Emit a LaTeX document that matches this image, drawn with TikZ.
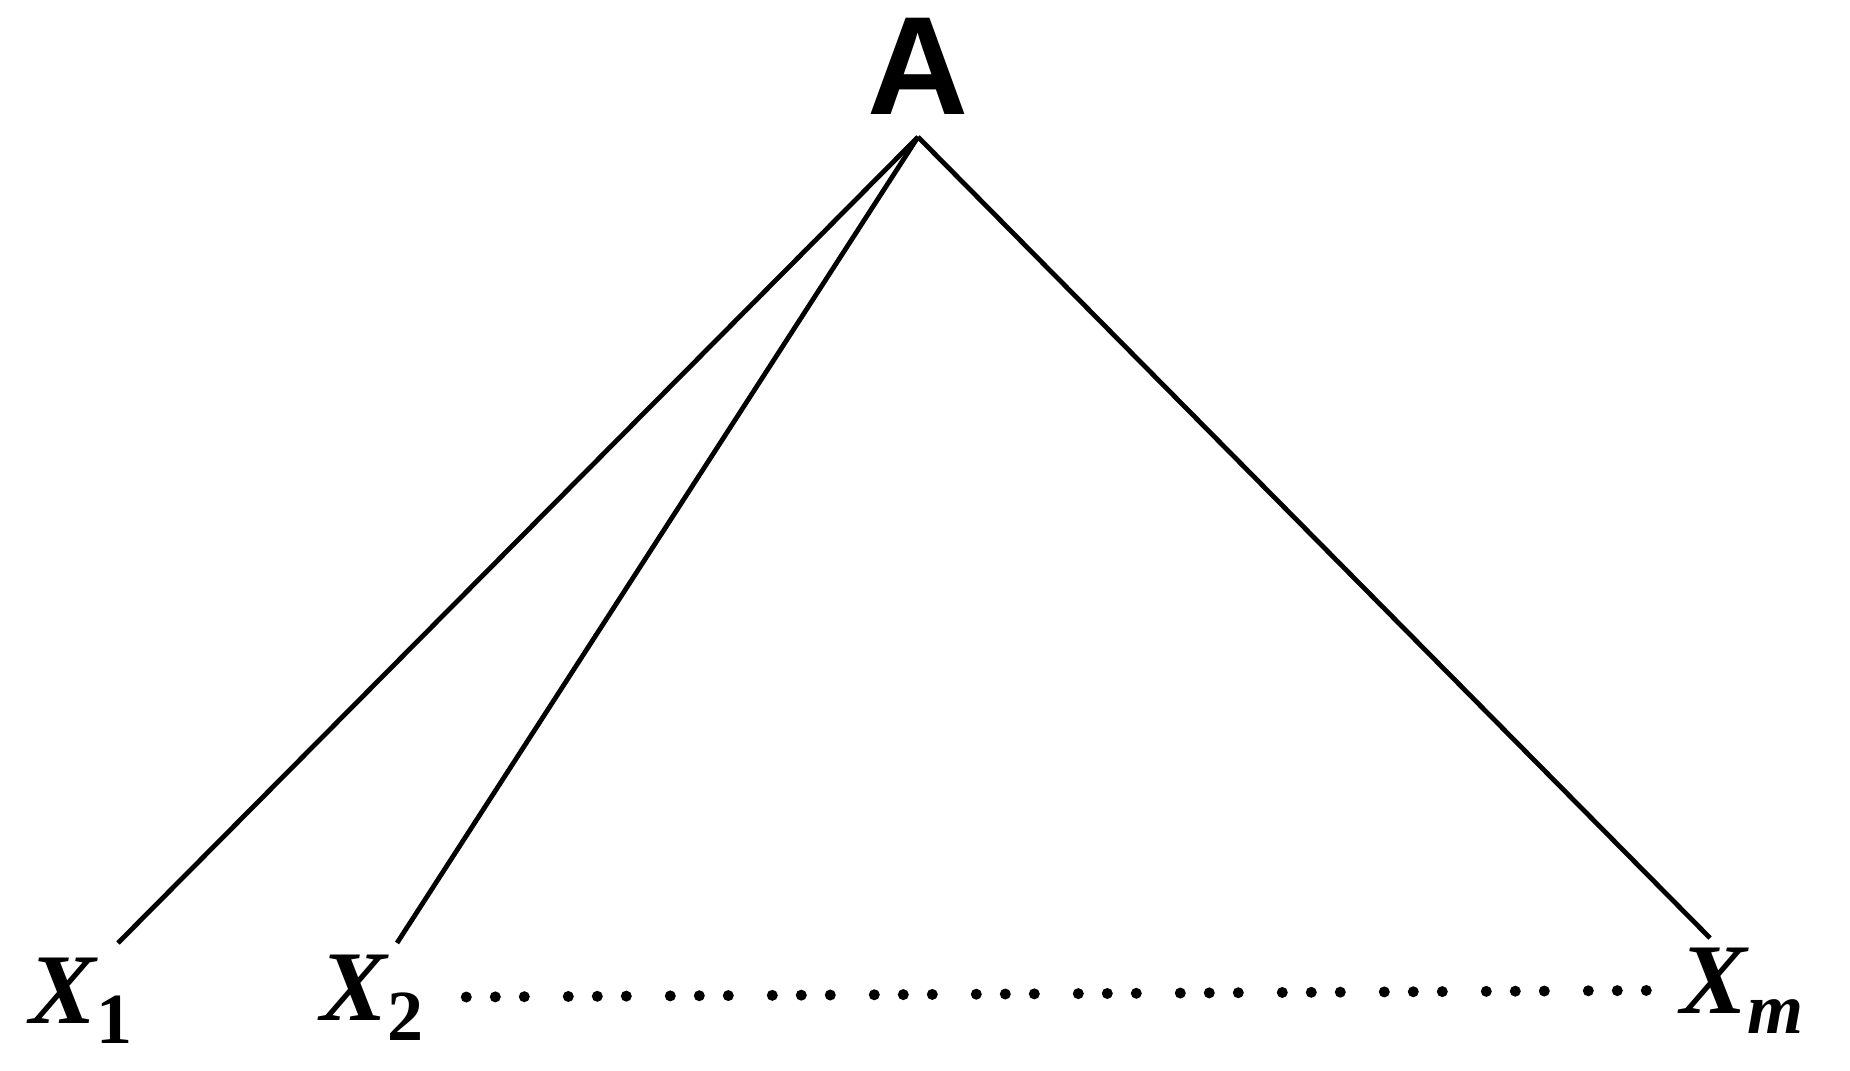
\documentclass[tikz,border=0pt]{standalone}
\usepackage{fontspec}
\usepackage{tikz}
\usepackage{xcolor}
\newfontfamily\Afont{Liberation Sans}
\newfontfamily\Xfont{Liberation Serif}
\tikzset{
  edge/.style={line width=1.2pt},
  leaf/.style={inner sep=0pt, anchor=base west, font=\Xfont\bfseries\itshape\fontsize{25}{30}\selectfont},
  dotrow/.style={line width=2.75pt, line cap=round,
    dash pattern=on 0pt off 7.25pt on 0pt off 7.25pt on 0pt off 11pt}
}
\begin{document}
\begin{tikzpicture}[x=0.25pt,y=-0.25pt]
    \useasboundingbox (0,0) rectangle (1850,1070);
    \node[inner sep=5.5pt, font=\Afont\bfseries\fontsize{35}{40}\selectfont] (A) at (918,66) {A};
    \node[leaf] (X1) at (29,1023) {X\raisebox{-5pt}{\upshape\fontsize{18}{20}\selectfont 1}};
    \node[leaf] (X2) at (320,1020) {X\raisebox{-5pt}{\upshape\fontsize{18}{20}\selectfont 2}};
    \node[leaf] (Xm) at (1680,1013) {X\raisebox{-5pt}{\fontsize{18}{20}\selectfont m}};
    % tops of the three branches
    \coordinate (t1) at (118,943);
    \coordinate (t2) at (397,943);
    \coordinate (tm) at (1710,938);
    \draw[edge] (A.south) -- (t1);
    \draw[edge] (A.south) -- (t2);
    \draw[edge] (A.south) -- (tm);
    \draw[dotrow, shorten <=10.5pt, shorten >=7.5pt] (X2.east) -- (Xm.west);
\end{tikzpicture}
\end{document}
